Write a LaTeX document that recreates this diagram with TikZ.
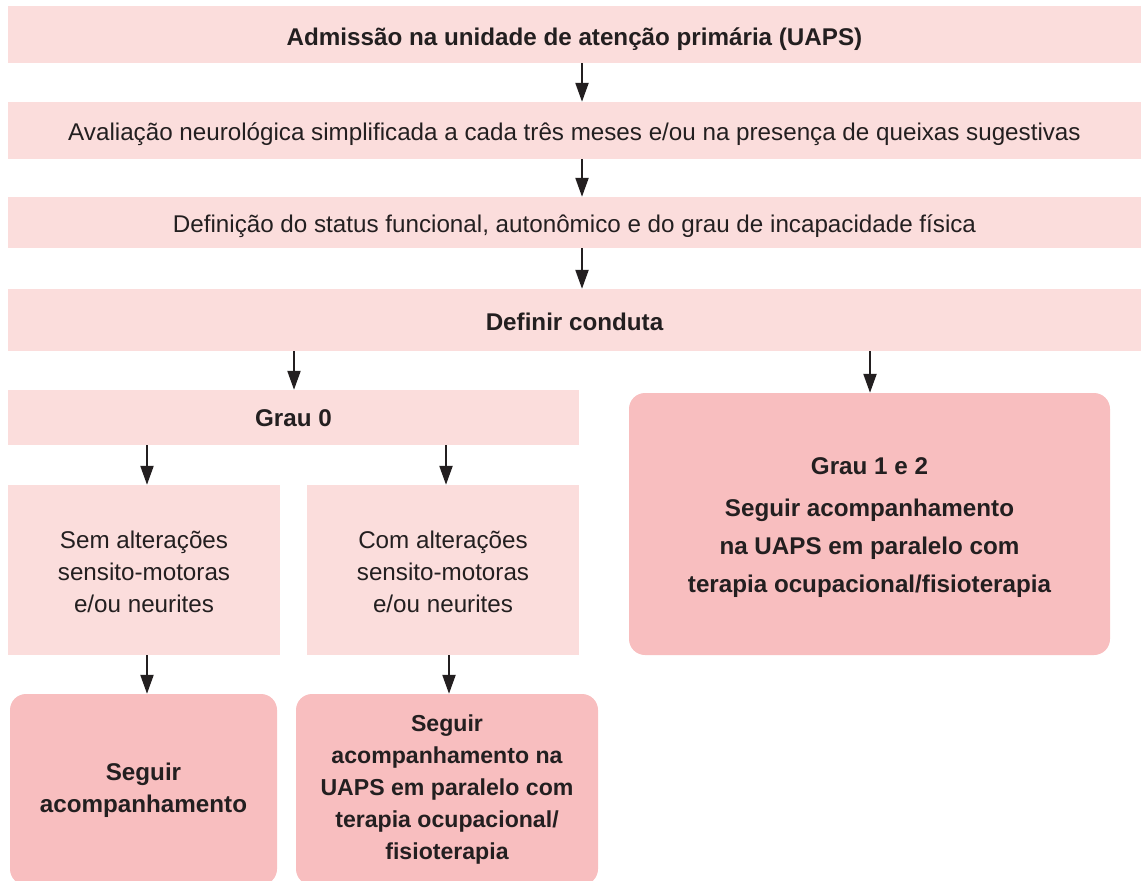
\documentclass[tikz,border=0pt]{standalone}
\usepackage{fontspec}
\setmainfont{Liberation Sans}
\usetikzlibrary{arrows.meta}
\definecolor{lightpink}{HTML}{FBDDDC}
\definecolor{darkpink}{HTML}{F8BEBF}
\definecolor{txt}{HTML}{231F20}
\begin{document}
\begin{tikzpicture}[x=1pt,y=-1pt,
  box/.style={fill=lightpink, draw=none, inner sep=0pt},
  rbox/.style={fill=darkpink, draw=none, inner sep=0pt, rounded corners=16pt},
  txtn/.style={inner sep=0pt, align=center, text=txt, font=\fontsize{24.2}{32}\selectfont},
  btxt/.style={txtn, font=\fontsize{24.2}{32}\selectfont\bfseries},
  arr/.style={draw=txt, line width=2.2pt, -{Triangle[length=19pt,width=13pt]}}]
\useasboundingbox (0,0) rectangle (1141,881);
\clip (0,0) rectangle (1141,881);
\node[box, minimum width=1133pt, minimum height=57pt,
  label={[btxt, yshift=-5pt]center:Admissão na unidade de atenção primária (UAPS)}] (b1) at (574.5,34.5) {};
\node[box, minimum width=1133pt, minimum height=57pt,
  label={[txtn, yshift=-4pt]center:Avaliação neurológica simplificada a cada três meses e/ou na presença de queixas sugestivas}] (b2) at (574.5,130.5) {};
\node[box, minimum width=1133pt, minimum height=51pt,
  label={[txtn, yshift=-4pt]center:Definição do status funcional, autonômico e do grau de incapacidade física}] (b3) at (574.5,222.5) {};
\node[box, minimum width=1133pt, minimum height=62pt,
  label={[btxt, yshift=-2pt]center:Definir conduta}] (b4) at (574.5,320) {};
\node[box, minimum width=571pt, minimum height=55pt,
  label={[btxt, yshift=-1pt]center:Grau 0}] (b5) at (293.5,417.5) {};
\node[box, minimum width=272pt, minimum height=170pt,
  label={[txtn, yshift=-2pt]center:{Sem alterações\\sensito-motoras\\e/ou neurites}}] (b6) at (144,570) {};
\node[box, minimum width=272pt, minimum height=170pt,
  label={[txtn, yshift=-2pt]center:{Com alterações\\sensito-motoras\\e/ou neurites}}] (b7) at (443,570) {};
\node[rbox, minimum width=267pt, minimum height=191pt,
  label={[btxt, yshift=-1pt]center:{Seguir\\acompanhamento}}] (b8) at (143.5,789.5) {};
\node[rbox, minimum width=302pt, minimum height=191pt,
  label={[btxt, font=\fontsize{23.1}{32}\selectfont\bfseries]center:{Seguir\\acompanhamento na\\UAPS em paralelo com\\terapia ocupacional/\\fisioterapia}}] (b9) at (447,789.5) {};
\node[rbox, minimum width=481pt, minimum height=262pt,
  label={[btxt, yshift=-4pt, font=\fontsize{24.2}{38}\selectfont\bfseries]center:{Grau 1 e 2\\[4pt]Seguir acompanhamento\\na UAPS em paralelo com\\terapia ocupacional/fisioterapia}}] (b10) at (869.5,524) {};
\draw[arr] (b1.south -| 582,0) -- (b2.north -| 582,0);
\draw[arr] (b2.south -| 582,0) -- (b3.north -| 582,0);
\draw[arr] (b3.south -| 582,0) -- (b4.north -| 582,0);
\draw[arr] (b4.south -| 294,0) -- (b5.north -| 294,0);
\draw[arr] (b4.south -| 870,0) -- (b10.north -| 870,0);
\draw[arr] (b5.south -| 147,0) -- (b6.north -| 147,0);
\draw[arr] (b5.south -| 446,0) -- (b7.north -| 446,0);
\draw[arr] (b6.south -| 147,0) -- (b8.north -| 147,0);
\draw[arr] (b7.south -| 449,0) -- (b9.north -| 449,0);
\end{tikzpicture}
\end{document}
